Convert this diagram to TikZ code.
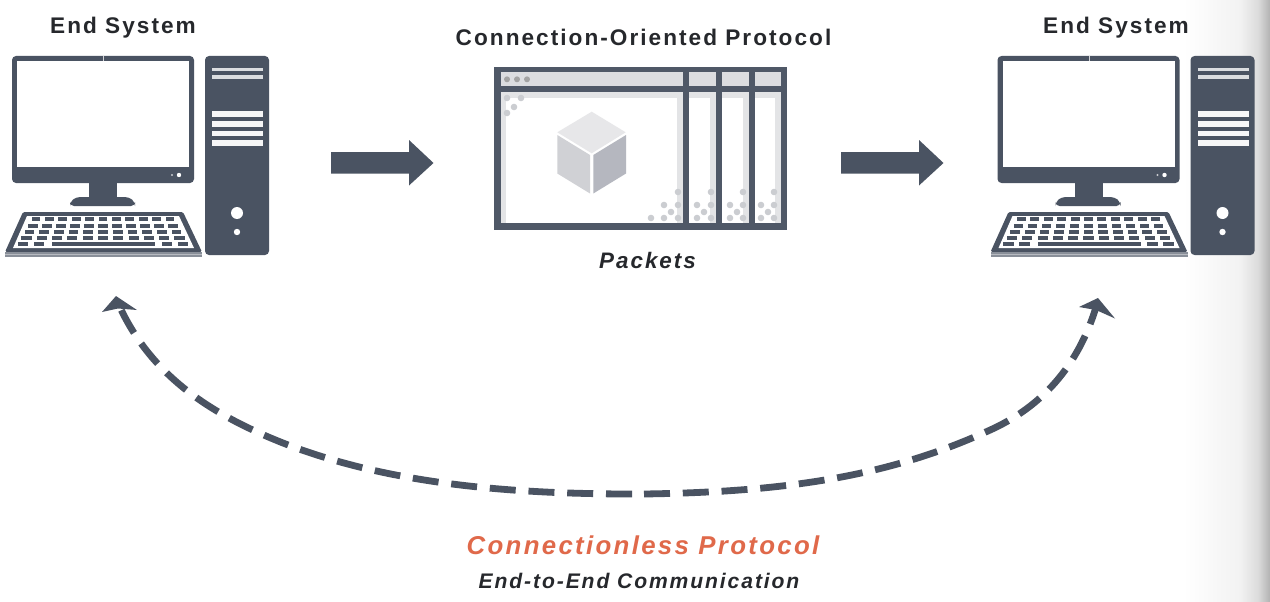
\documentclass[tikz,border=0pt]{standalone}
\usepackage{fontspec}
\setmainfont{Liberation Sans}
\newfontfamily\lblfont[LetterSpace=9]{Liberation Sans}
\usetikzlibrary{shadings}
\definecolor{slate}{HTML}{4A5362}
\definecolor{paneline}{HTML}{4F5867}
\definecolor{panegray}{HTML}{DCDDE0}
\definecolor{stripegray}{HTML}{E3E4E6}
\definecolor{dotgray}{HTML}{CBCDD1}
\definecolor{cubetop}{HTML}{E7E7E9}
\definecolor{cubeleft}{HTML}{D0D1D5}
\definecolor{cuberight}{HTML}{B5B7BF}
\definecolor{orangetxt}{HTML}{E0694A}
\definecolor{inktxt}{HTML}{26282C}
\tikzset{
  solidpart/.style={fill=slate,draw=none},
  whitepart/.style={fill=white,draw=none},
  headlabel/.style={font=\lblfont\bfseries\fontsize{22.6}{26}\selectfont,text=inktxt,inner sep=0pt},
  packlabel/.style={font=\lblfont\bfseries\itshape\fontsize{22.4}{26}\selectfont,text=inktxt,inner sep=0pt},
  itlabel/.style={font=\lblfont\bfseries\itshape\fontsize{21.1}{25}\selectfont,text=inktxt,inner sep=0pt},
  mainlabel/.style={font=\lblfont\bfseries\itshape\fontsize{25.8}{30}\selectfont,text=orangetxt,inner sep=0pt},
  dashline/.style={draw=slate,line width=6.8pt,dash pattern=on 26pt off 12.8pt},
  panedot/.style={fill=dotgray,draw=none}
}
\newcommand{\drawcomputer}[1]{%
\begin{scope}[shift={(#1,0)}]
  % monitor
  \fill[solidpart,rounded corners=4pt] (12,56) rectangle (194,183);
  \fill[whitepart] (17,61) rectangle (189,167);
  \fill[white!75!slate] (103,56) rectangle (104,61);
  \fill[white!70!slate] (172,175) circle (1.2pt);
  \fill[white] (179,175) circle (2.2pt);
  % stand
  \fill[solidpart] (89,183) rectangle (117,198);
  \fill[solidpart,rounded corners=4pt] (70,206) -- (70,202) -- (76,197) -- (129,197) -- (135,202) -- (135,206) -- cycle;
  % keyboard
  \fill[solidpart,rounded corners=1.5pt] (23,212) -- (183,212) -- (202,252) -- (5,252) -- cycle;
  \fill[fill=slate!65!white] (5,252) rectangle (202,257);
  \fill[white!60!slate] (5,254) rectangle (202,255);
  \fill[whitepart] (27,216) -- (179,216) -- (194,248) -- (13,248) -- cycle;
  \foreach \yy/\ss in {219.3/13.4,225.7/14,232/14.7,238/15.3}{
    \foreach \ii in {-5,...,5}{
      \fill[solidpart] ({103+\ii*\ss-0.33*\ss},\yy-2.1) rectangle ({103+\ii*\ss+0.33*\ss},\yy+2.1);
    }
  }
  \foreach \ii in {-5,-4,4,5}{
    \fill[solidpart] ({103+\ii*16-5.3},241.8) rectangle ({103+\ii*16+5.3},246);
  }
  \fill[solidpart] (52,241.8) rectangle (155,246);
  % tower
  \fill[solidpart,rounded corners=4pt] (205,56) rectangle (269,255);
  \foreach \yy in {69.5,77}{\fill[white!80!slate] (212,\yy-1.7) rectangle (263,\yy+1.7);}
  \foreach \yy in {114,124,133.3,143}{\fill[white!95!slate] (212,\yy-2.6) rectangle (263,\yy+2.6);}
  \fill[white] (237,213) circle (6pt);
  \fill[white] (237,232) circle (3.2pt);
\end{scope}}
\begin{document}
\begin{tikzpicture}[x=1pt,y=-1pt]
\useasboundingbox (0,0) rectangle (1270,602);
\fill[white] (0,0) rectangle (1270,602);
% right-hand grey fade of the screenshot
\shade[left color=white,right color=black!5] (1183,0) rectangle (1240,602);
\shade[left color=black!5,right color=black!14] (1240,0) rectangle (1258,602);
\shade[left color=black!14,right color=black!30] (1258,0) rectangle (1270,602);

\drawcomputer{0}
\drawcomputer{985.5}

\node[headlabel] (leftlabel) at (123,28) {End System};
\node[headlabel] (rightlabel) at (1116,28) {End System};
\node[headlabel] (midlabel) at (643.5,37) {Connection-Oriented Protocol};

% block arrows
\foreach \dx in {0,510}{
  \fill[solidpart] (331+\dx,152) -- (409+\dx,152) -- (409+\dx,140) -- (433.5+\dx,163) -- (409+\dx,185.5) -- (409+\dx,173.5) -- (331+\dx,173.5) -- cycle;
}

% protocol window
\fill[fill=paneline] (494,67) rectangle (787,230);
\fill[white] (501,92) rectangle (683.3,223);
\foreach \xa/\xb in {689.3/716,722.3/748.7,755/781}{\fill[white] (\xa,92) rectangle (\xb,223);}
% title bars
\foreach \xa/\xb in {501/683.3,689.3/716,722.3/748.7,755/781}{
  \fill[panegray] (\xa,72.5) rectangle (\xb,86);
  \fill[stripegray] (\xa,92) rectangle (\xb,98.5);
}
% side stripes
\fill[stripegray] (501,92) rectangle (506,223);
\foreach \xa/\xb in {677/683.3,710/716,743/748.7,775/781}{\fill[stripegray] (\xa,92) rectangle (\xb,223);}
\foreach \xx in {507,517,527}{\fill[black!36] (\xx,79.3) circle (3pt);}
% corner dots
\foreach \xx/\yy in {507/98,521/98,514/107,507/113,
  678/192,664/205,678/205,671/212,651/218,664/218,678/218,
  711/192,697/205,711/205,704/212,697/218,711/218,
  743/192,730/205,743/205,737/212,730/218,743/218,
  774/192,761/205,774/205,768/212,761/218,774/218}{
  \fill[panedot] (\xx,\yy) circle (3.3pt);
}
% cube
\fill[cubetop] (591.7,111.7) -- (625.7,132.3) -- (591.7,153.3) -- (557.3,132.3) -- cycle;
\fill[cubeleft] (557.3,135) -- (590,155) -- (590,193.5) -- (557.3,173.5) -- cycle;
\fill[cuberight] (593.3,155) -- (626,135) -- (626,173.5) -- (593.3,193.5) -- cycle;

\node[packlabel] (packets) at (647.5,260) {Packets};

% dashed return curve
\coordinate (curvebottomleft) at (632,494);
\coordinate (curvebottomright) at (644,494);
\coordinate (curveleftmid) at (283,443);
\coordinate (curverightmid) at (988,431);
\coordinate (curvelefttip) at (118,303);
\coordinate (curverighttip) at (1097,304);
\draw[dashline] (curvebottomleft) .. controls (500,494) and (383,482) .. (curveleftmid)
   .. controls (210,414) and (150,375) .. (curvelefttip);
\draw[dashline] (curvebottomright) .. controls (780,492) and (885,478) .. (curverightmid)
   .. controls (1040,408) and (1078,368) .. (curverighttip);
\fill[solidpart] (116,296) -- (137,310) -- (118,308.5) -- (102,312) -- cycle;
\fill[solidpart] (1098,298) -- (1115,318.5) -- (1096,310) -- (1079,307) -- cycle;

\node[mainlabel] (clproto) at (643,545) {Connectionless Protocol};
\node[itlabel] (e2e) at (639,581) {End-to-End Communication};
\end{tikzpicture}
\end{document}
